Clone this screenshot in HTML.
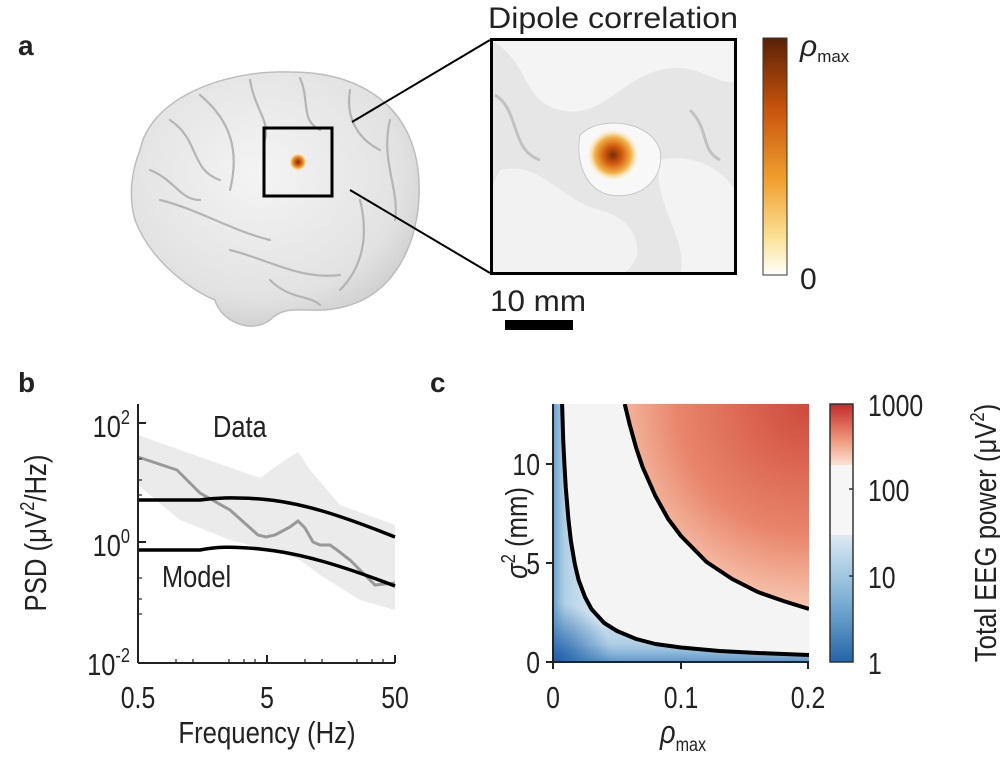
<!DOCTYPE html>
<html><head><meta charset="utf-8"><style>
body{margin:0;background:#fff}
svg text{font-family:"Liberation Sans",Arial,sans-serif;fill:#222}
</style></head><body>
<svg width="1000" height="765" viewBox="0 0 1000 765" xmlns="http://www.w3.org/2000/svg">
<defs>
<radialGradient id="brainG" cx="0.45" cy="0.4" r="0.7">
<stop offset="0" stop-color="#f4f4f4"/><stop offset="0.7" stop-color="#e2e2e2"/><stop offset="1" stop-color="#c4c4c4"/></radialGradient>
<radialGradient id="hot" cx="0.5" cy="0.5" r="0.5">
<stop offset="0" stop-color="#7a2a05"/><stop offset="0.35" stop-color="#d25b0c"/><stop offset="0.7" stop-color="#f2b24a"/><stop offset="1" stop-color="#fff3c8" stop-opacity="0"/></radialGradient>
<linearGradient id="cbA" x1="0" y1="0" x2="0" y2="1">
<stop offset="0" stop-color="#5a2106"/><stop offset="0.3" stop-color="#c8540c"/><stop offset="0.6" stop-color="#f0a030"/><stop offset="0.85" stop-color="#fbe39a"/><stop offset="1" stop-color="#ffffff"/></linearGradient>
<radialGradient id="redG" cx="808" cy="404" r="260" gradientUnits="userSpaceOnUse">
<stop offset="0" stop-color="#cf4a3c"/><stop offset="0.5" stop-color="#e8856a"/><stop offset="0.85" stop-color="#fbd6c2"/><stop offset="1" stop-color="#fdeee4"/></radialGradient>
<linearGradient id="blueL" x1="553" y1="0" x2="600" y2="0" gradientUnits="userSpaceOnUse">
<stop offset="0" stop-color="#4a8cc2" stop-opacity="0.8"/><stop offset="0.25" stop-color="#7fb2d6" stop-opacity="0.4"/><stop offset="1" stop-color="#cfe2ef" stop-opacity="0"/></linearGradient>
<linearGradient id="blueB" x1="0" y1="662" x2="0" y2="600" gradientUnits="userSpaceOnUse">
<stop offset="0" stop-color="#3f82bd" stop-opacity="0.8"/><stop offset="0.3" stop-color="#7fb2d6" stop-opacity="0.4"/><stop offset="1" stop-color="#cfe2ef" stop-opacity="0"/></linearGradient>
<radialGradient id="blueC" cx="553" cy="662" r="60" gradientUnits="userSpaceOnUse">
<stop offset="0" stop-color="#1f5fa8"/><stop offset="1" stop-color="#1f5fa8" stop-opacity="0"/></radialGradient>
<linearGradient id="cbRed" x1="0" y1="0" x2="0" y2="1"><stop offset="0" stop-color="#c42a2a"/><stop offset="0.6" stop-color="#ee9a7c"/><stop offset="1" stop-color="#fbe2d6"/></linearGradient>
<linearGradient id="cbBlue" x1="0" y1="0" x2="0" y2="1"><stop offset="0" stop-color="#dde9f2"/><stop offset="0.5" stop-color="#7fb2d6"/><stop offset="1" stop-color="#2464a8"/></linearGradient>
<clipPath id="cc"><rect x="553" y="404" width="256" height="258"/></clipPath>
<clipPath id="blueClip"><path d="M553,404 L562.1,404 L563.2,440 L564.5,466 L565.8,488 L568.4,519 L570.9,541 L574.8,564 L578.6,580 L585,597 L591.4,609 L604.2,623 L617,631 L636.2,639 L655.4,644 L681,647.5 L719.4,651 L757.8,653 L809,655 L809,662 L553,662Z"/></clipPath>
<clipPath id="sq"><rect x="490" y="38" width="247" height="237"/></clipPath>
</defs>

<!-- Panel a -->
<text x="18" y="55" font-size="28" font-weight="bold">a</text>
<path d="M140,150 C150,100 220,70 290,72 C360,72 410,105 418,170 C425,230 400,290 350,305 C310,318 290,300 270,320 C250,335 220,320 215,300 C190,290 150,260 135,220 C128,195 132,170 140,150 Z" fill="url(#brainG)" stroke="#bdbdbd" stroke-width="1.5"/>
<g fill="none" stroke="#b5b5b5" stroke-width="2.2" stroke-linecap="round">
<path d="M170,120 C200,140 190,170 220,180"/><path d="M200,95 C230,120 240,150 230,190"/><path d="M250,80 C255,110 270,120 265,140"/>
<path d="M300,78 C310,100 300,120 320,130"/><path d="M350,90 C345,120 360,140 380,150"/><path d="M390,120 C380,160 400,190 395,220"/>
<path d="M160,200 C200,210 230,230 270,240"/><path d="M230,250 C270,260 300,280 340,275"/><path d="M360,200 C370,240 360,270 340,290"/>
<path d="M150,170 C175,180 180,200 200,200"/><path d="M270,280 C290,300 310,295 320,305"/>
</g>
<circle cx="298" cy="162" r="9" fill="url(#hot)"/>
<rect x="264" y="128" width="68" height="68" fill="none" stroke="#000" stroke-width="3"/>
<line x1="352" y1="122" x2="490" y2="40" stroke="#000" stroke-width="2"/>
<line x1="350" y1="190" x2="490" y2="273" stroke="#000" stroke-width="2"/>
<text x="613" y="28" font-size="30" text-anchor="middle" textLength="250" lengthAdjust="spacingAndGlyphs">Dipole correlation</text>
<g clip-path="url(#sq)">
<rect x="490" y="38" width="247" height="237" fill="#e6e6e6"/>
<path d="M490,40 C530,60 520,100 560,110 C600,120 620,80 660,70 C700,60 720,90 737,80 L737,38 L490,38Z" fill="#f4f4f4"/>
<path d="M500,170 C540,160 560,200 600,210 C640,220 650,260 620,275 L490,275 L490,190Z" fill="#f2f2f2"/>
<path d="M660,160 C700,150 737,180 737,200 L737,275 L680,275 C690,240 650,200 660,160Z" fill="#f3f3f3"/>
<path d="M580,135 C600,115 650,120 660,150 C665,180 640,200 610,195 C585,190 575,160 580,135Z" fill="#f8f8f8" stroke="#c8c8c8"/>
<path d="M495,95 C520,110 510,150 540,160" fill="none" stroke="#c2c2c2" stroke-width="3"/>
<path d="M690,110 C710,130 700,150 720,160" fill="none" stroke="#c2c2c2" stroke-width="3"/>
<circle cx="613" cy="155" r="26" fill="url(#hot)"/>
</g>
<rect x="491.5" y="39.5" width="244" height="234" fill="none" stroke="#000" stroke-width="3"/>
<rect x="763" y="38" width="24" height="237" fill="url(#cbA)" stroke="#333" stroke-width="1"/>
<text x="800" y="56" font-size="30" font-style="italic">ρ<tspan font-size="17" font-style="normal" dy="6">max</tspan></text>
<text x="800" y="289" font-size="30">0</text>
<text x="490" y="311" font-size="30" textLength="96" lengthAdjust="spacingAndGlyphs">10 mm</text>
<rect x="505" y="320" width="68" height="10" fill="#000"/>

<!-- Panel b -->
<text x="18" y="392" font-size="28" font-weight="bold">b</text>
<path d="M138,435 L180,450 L260,478 L285,460 L298,452 L310,470 L340,505 L395,525 L395,610 L360,600 L320,575 L300,560 L270,550 L230,540 L180,520 L138,485Z" fill="#ebebeb"/>
<polyline points="138,457 177,470 200,493 230,510 258,535 266,537 275,535 290,527 298,521 305,528 313,542 320,545 330,545 337,550 350,560 360,570 375,585 395,583" fill="none" stroke="#999" stroke-width="3"/>
<path d="M138,500 L200,500 C215,498 230,497 260,499 C300,502 340,515 395,537" fill="none" stroke="#000" stroke-width="3.5"/>
<path d="M138,550 L200,550 C215,547 230,546 260,549 C300,553 340,565 395,586" fill="none" stroke="#000" stroke-width="3.5"/>
<g stroke="#222" stroke-width="2" fill="none">
<line x1="138" y1="404" x2="138" y2="663"/><line x1="138" y1="663" x2="395" y2="663"/>
<line x1="138" y1="423" x2="146" y2="423"/><line x1="138" y1="542" x2="146" y2="542"/>
<line x1="138" y1="663" x2="138" y2="655"/><line x1="267" y1="663" x2="267" y2="655"/><line x1="395" y1="663" x2="395" y2="655"/>
</g>
<g stroke="#222" stroke-width="1.2">
<line x1="176" y1="663" x2="176" y2="659"/><line x1="193" y1="663" x2="193" y2="659"/><line x1="229" y1="663" x2="229" y2="659"/><line x1="244" y1="663" x2="244" y2="659"/><line x1="255" y1="663" x2="255" y2="659"/>
<line x1="305" y1="663" x2="305" y2="659"/><line x1="322" y1="663" x2="322" y2="659"/><line x1="357" y1="663" x2="357" y2="659"/><line x1="372" y1="663" x2="372" y2="659"/><line x1="383" y1="663" x2="383" y2="659"/>
<line x1="138" y1="459" x2="142" y2="459"/><line x1="138" y1="480" x2="142" y2="480"/><line x1="138" y1="495" x2="142" y2="495"/><line x1="138" y1="578" x2="142" y2="578"/><line x1="138" y1="599" x2="142" y2="599"/><line x1="138" y1="614" x2="142" y2="614"/>
</g>
<g font-size="31">
<text transform="translate(213,437) scale(0.82,1)">Data</text>
<text transform="translate(162,587) scale(0.82,1)">Model</text>
</g>
<g font-size="31" text-anchor="end">
<text transform="translate(130,437) scale(0.82,1)">10<tspan font-size="20" dy="-13">2</tspan></text>
<text transform="translate(130,556) scale(0.82,1)">10<tspan font-size="20" dy="-13">0</tspan></text>
<text transform="translate(130,675) scale(0.82,1)">10<tspan font-size="20" dy="-13">-2</tspan></text>
</g>
<g font-size="31" text-anchor="middle">
<text transform="translate(138,708) scale(0.8,1)">0.5</text><text transform="translate(267,708) scale(0.8,1)">5</text><text transform="translate(395,708) scale(0.8,1)">50</text>
</g>
<text transform="translate(267,743) scale(0.83,1)" font-size="31" text-anchor="middle">Frequency (Hz)</text>
<text transform="translate(46,533) rotate(-90) scale(0.83,1)" font-size="31" text-anchor="middle">PSD (μV<tspan font-size="20" dy="-12">2</tspan><tspan dy="12">/Hz)</tspan></text>

<!-- Panel c -->
<text x="430" y="392" font-size="28" font-weight="bold">c</text>
<g clip-path="url(#cc)">
<rect x="553" y="404" width="256" height="258" fill="#f4f4f4"/>
<path d="M624.7,404 L629.8,425 L636.2,448 L642.6,467 L655.4,496 L668.2,519 L681,536 L706.6,562 L732.2,579 L757.8,592 L783.4,601 L809,609 L809,404Z" fill="url(#redG)"/>
<g clip-path="url(#blueClip)">
<rect x="553" y="404" width="256" height="258" fill="#cfe2ef"/>
<rect x="553" y="404" width="256" height="258" fill="url(#blueL)"/>
<rect x="553" y="404" width="256" height="258" fill="url(#blueB)"/>
<rect x="553" y="404" width="256" height="258" fill="url(#blueC)"/>
</g>
<polyline points="562.1,404 563.2,440 564.5,466 565.8,488 568.4,519 570.9,541 574.8,564 578.6,580 585,597 591.4,609 604.2,623 617,631 636.2,639 655.4,644 681,647.5 719.4,651 757.8,653 809,655" fill="none" stroke="#000" stroke-width="4" stroke-linejoin="round"/>
<polyline points="624.7,404 629.8,425 636.2,448 642.6,467 655.4,496 668.2,519 681,536 706.6,562 732.2,579 757.8,592 783.4,601 809,609" fill="none" stroke="#000" stroke-width="4" stroke-linejoin="round"/>
</g>
<g stroke="#222" stroke-width="2">
<line x1="553" y1="404" x2="553" y2="663"/><line x1="552" y1="662" x2="809" y2="662"/>
<line x1="546" y1="563" x2="553" y2="563"/><line x1="546" y1="464" x2="553" y2="464"/><line x1="546" y1="662" x2="553" y2="662"/>
<line x1="553" y1="662" x2="553" y2="669"/><line x1="681" y1="662" x2="681" y2="669"/><line x1="808" y1="662" x2="808" y2="669"/>
</g>
<g font-size="31" text-anchor="end">
<text transform="translate(540,475) scale(0.8,1)">10</text><text transform="translate(540,574) scale(0.8,1)">5</text><text transform="translate(540,673) scale(0.8,1)">0</text>
</g>
<g font-size="31" text-anchor="middle">
<text transform="translate(553,708) scale(0.8,1)">0</text><text transform="translate(681,708) scale(0.8,1)">0.1</text><text transform="translate(808,708) scale(0.8,1)">0.2</text>
</g>
<text transform="translate(660,743) scale(0.85,1)" font-size="32" font-style="italic">ρ<tspan font-size="19" font-style="normal" dy="8">max</tspan></text>
<text transform="translate(527,533) rotate(-90) scale(0.83,1)" font-size="31" text-anchor="middle"><tspan font-style="italic">σ</tspan><tspan font-size="20" dy="-12">2</tspan><tspan dy="12"> (mm)</tspan></text>
<rect x="830" y="404" width="23" height="61" fill="url(#cbRed)"/>
<rect x="830" y="465" width="23" height="70" fill="#f6f6f6"/>
<rect x="830" y="535" width="23" height="127" fill="url(#cbBlue)"/>
<rect x="830" y="404" width="23" height="258" fill="none" stroke="#333" stroke-width="1.5"/>
<g stroke="#333" stroke-width="1.5">
<line x1="849" y1="489" x2="853" y2="489"/><line x1="849" y1="576" x2="853" y2="576"/>
</g>
<g font-size="31">
<text transform="translate(868,416) scale(0.8,1)">1000</text><text transform="translate(868,501) scale(0.8,1)">100</text><text transform="translate(868,588) scale(0.8,1)">10</text><text transform="translate(868,674) scale(0.8,1)">1</text>
</g>
<text transform="translate(996,533) rotate(-90) scale(0.83,1)" font-size="31" text-anchor="middle">Total EEG power (μV<tspan font-size="20" dy="-12">2</tspan><tspan dy="12">)</tspan></text>
</svg>
</body></html>
